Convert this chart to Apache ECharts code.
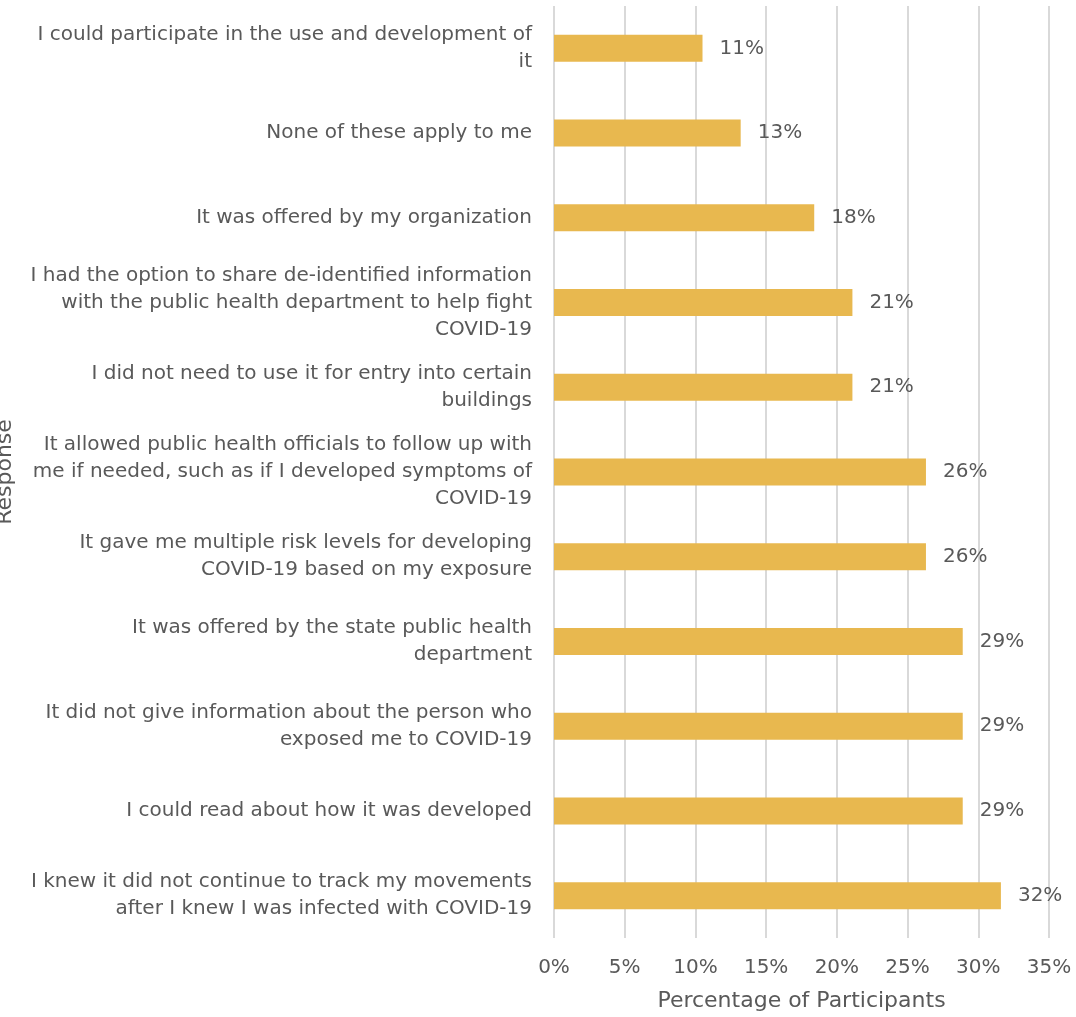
<!DOCTYPE html>
<html>
<head>
<meta charset="utf-8">
<style>
  html, body { margin: 0; padding: 0; background: #ffffff; }
  #chart { width: 1076px; height: 1017px; }
</style>
<script src="https://cdn.jsdelivr.net/npm/echarts@6/dist/echarts.min.js"></script>
</head>
<body>
<div id="chart"></div>
<script>
// Reasons participants gave for being willing to use a contact-tracing app
const categories = [
  "I could participate in the use and development of\nit",
  "None of these apply to me",
  "It was offered by my organization",
  "I had the option to share de-identified information\nwith the public health department to help fight\nCOVID-19",
  "I did not need to use it for entry into certain\nbuildings",
  "It allowed public health officials to follow up with\nme if needed, such as if I developed symptoms of\nCOVID-19",
  "It gave me multiple risk levels for developing\nCOVID-19 based on my exposure",
  "It was offered by the state public health\ndepartment",
  "It did not give information about the person who\nexposed me to COVID-19",
  "I could read about how it was developed",
  "I knew it did not continue to track my movements\nafter I knew I was infected with COVID-19"
];

// Share of participants (%)
const percentages = [10.5, 13.2, 18.4, 21.1, 21.1, 26.3, 26.3, 28.9, 28.9, 28.9, 31.6];

const xTicks = { min: 0, max: 35, interval: 5 };

const textColor = '#595959';
const fontFamily = '"DejaVu Sans", sans-serif';

const chart = echarts.init(document.getElementById('chart'));
chart.setOption({
  animation: false,
  textStyle: { fontFamily: fontFamily, color: textColor },
  grid: {
    left: 554, right: 27, top: 6, bottom: 79,
    containLabel: false,
    outerBoundsMode: 'none'
  },
  xAxis: {
    type: 'value',
    min: xTicks.min,
    max: xTicks.max,
    interval: xTicks.interval,
    name: 'Percentage of Participants',
    nameLocation: 'middle',
    nameGap: 52,
    nameTextStyle: { fontSize: 22, color: textColor, fontFamily: fontFamily },
    axisLine: { show: false },
    axisTick: { show: false },
    axisLabel: {
      margin: 20,
      fontSize: 20,
      color: textColor,
      fontFamily: fontFamily,
      formatter: v => v + '%'
    },
    splitLine: { show: true, lineStyle: { color: '#d9d9d9', width: 2 } }
  },
  yAxis: {
    type: 'category',
    inverse: true,
    data: categories,
    name: 'Response',
    nameLocation: 'middle',
    nameRotate: 90,
    nameGap: 538,
    nameTextStyle: { fontSize: 22, color: textColor, fontFamily: fontFamily },
    axisLine: { show: false },
    axisTick: { show: false },
    axisLabel: {
      margin: 22,
      fontSize: 20,
      lineHeight: 27,
      color: textColor,
      fontFamily: fontFamily,
      align: 'right'
    }
  },
  series: [{
    type: 'bar',
    data: percentages,
    barWidth: 27,
    itemStyle: { color: '#E8B84F' },
    label: {
      show: true,
      position: 'right',
      distance: 17,
      fontSize: 20,
      color: textColor,
      fontFamily: fontFamily,
      formatter: p => Math.round(p.value) + '%'
    }
  }]
});
</script>
</body>
</html>
